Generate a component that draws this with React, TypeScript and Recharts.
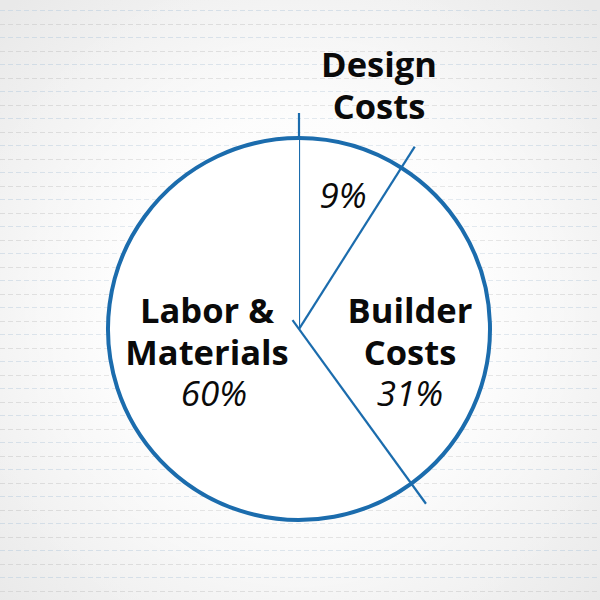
import React from 'react';
import { PieChart, Pie, Cell } from 'recharts';

const categories = ['Design Costs', 'Builder Costs', 'Labor & Materials'];
const values = [9, 31, 60];
const nameLines = [['Design', 'Costs'], ['Builder', 'Costs'], ['Labor &', 'Materials']];

const data = categories.map((name, i) => ({ name, value: values[i] }));

const BLUE = '#1b6cad';
const CX = 299;
const CY = 329;
const R = 191;

// label layout offsets relative to the pie centre
const labelLayout = [
  { nx: 80, ny: -252, px: 44, py: -121 },
  { nx: 111, ny: -6, px: 111, py: 77 },
  { nx: -92, ny: -6, px: -85, py: 77 },
];

const RAD = Math.PI / 180;
const pt = (cx: number, cy: number, r: number, a: number) => ({
  x: cx + Math.cos(-a * RAD) * r,
  y: cy + Math.sin(-a * RAD) * r,
});

const SliceShape = (props: any) => {
  const { cx, cy, outerRadius, startAngle, endAngle } = props;
  const s = pt(cx, cy, outerRadius, startAngle);
  const e = pt(cx, cy, outerRadius, endAngle);
  const large = Math.abs(endAngle - startAngle) > 180 ? 1 : 0;
  const sweep = endAngle < startAngle ? 1 : 0;
  const a = pt(cx, cy, -11, startAngle);
  const b = pt(cx, cy, outerRadius + 25, startAngle);
  return (
    <g>
      <path
        d={`M${cx},${cy} L${s.x},${s.y} A${outerRadius},${outerRadius} 0 ${large} ${sweep} ${e.x},${e.y} Z`}
        fill="#ffffff"
        stroke="none"
      />
      <path
        d={`M${s.x},${s.y} A${outerRadius},${outerRadius} 0 ${large} ${sweep} ${e.x},${e.y}`}
        fill="none"
        stroke={BLUE}
        strokeWidth={4}
      />
      <line x1={a.x} y1={a.y} x2={b.x} y2={b.y} stroke={BLUE} strokeWidth={2.2} />
    </g>
  );
};

const renderLabel = (props: any) => {
  const { index, value } = props;
  const L = labelLayout[index];
  const lines = nameLines[index];
  return (
    <g key={`lbl-${index}`}>
      {lines.map((t, i) => (
        <text
          key={i}
          x={CX + L.nx}
          y={CY + L.ny + i * 42}
          textAnchor="middle"
          fontFamily="'Open Sans', sans-serif"
          fontWeight={700}
          fontSize={34.5}
          fill="#0a0a0a"
        >
          {t}
        </text>
      ))}
      <text
        x={CX + L.px}
        y={CY + L.py}
        textAnchor="middle"
        fontFamily="'Open Sans', sans-serif"
        fontStyle="italic"
        fontSize={35}
        fill="#0a0a0a"
      >
        {`${value}%`}
      </text>
    </g>
  );
};

const Background = () => {
  const ys: number[] = [];
  for (let y = 10; y < 600; y += 13.5) ys.push(Math.round(y) + 0.5);
  return (
    <svg width={600} height={600} style={{ position: 'absolute', left: 0, top: 0 }}>
      <defs>
        <radialGradient id="bg" cx="50%" cy="52%" r="70%">
          <stop offset="0%" stopColor="#ffffff" />
          <stop offset="45%" stopColor="#fbfbfb" />
          <stop offset="100%" stopColor="#e8e8e8" />
        </radialGradient>
        <radialGradient id="fade" cx="50%" cy="52%" r="60%">
          <stop offset="0%" stopColor="#ffffff" stopOpacity={0.85} />
          <stop offset="60%" stopColor="#ffffff" stopOpacity={0.35} />
          <stop offset="100%" stopColor="#ffffff" stopOpacity={0.05} />
        </radialGradient>
      </defs>
      <rect width={600} height={600} fill="url(#bg)" />
      {ys.map((y, i) => (
        <line
          key={i}
          x1={0}
          x2={600}
          y1={y}
          y2={y}
          stroke={i % 2 === 0 ? '#cfdae4' : '#d6d6d6'}
          strokeWidth={1}
          strokeDasharray="5 3"
        />
      ))}
      <rect width={600} height={600} fill="url(#fade)" />
    </svg>
  );
};

export default function App() {
  return (
    <div style={{ position: 'absolute', left: 0, top: 0, width: 600, height: 600, overflow: 'hidden' }}>
      <Background />
      <div style={{ position: 'absolute', left: 0, top: 0 }}>
        <PieChart width={600} height={600} margin={{ top: 0, right: 0, bottom: 0, left: 0 }}>
          <Pie
            data={data}
            dataKey="value"
            nameKey="name"
            cx={CX}
            cy={CY}
            outerRadius={R}
            startAngle={90}
            endAngle={-270}
            stroke="none"
            isAnimationActive={false}
            shape={SliceShape}
            label={renderLabel}
            labelLine={false}
          >
            {data.map((d, i) => (
              <Cell key={i} fill="#ffffff" />
            ))}
          </Pie>
        </PieChart>
      </div>
    </div>
  );
}
